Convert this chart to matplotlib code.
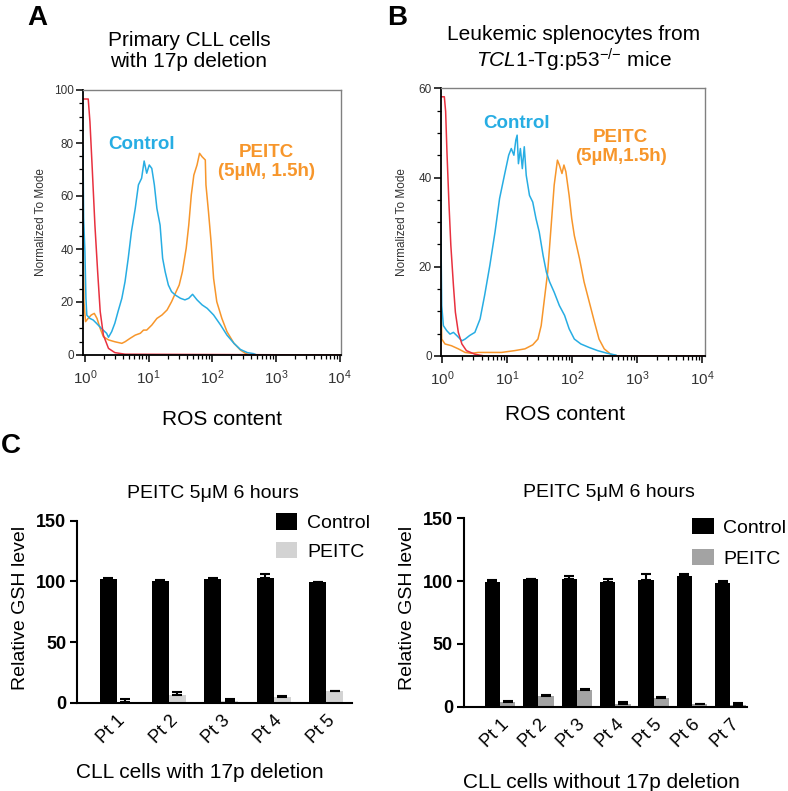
import numpy as np
import matplotlib
matplotlib.use("Agg")
import matplotlib.pyplot as plt
from matplotlib.ticker import MultipleLocator, LogLocator, LogFormatterSciNotation, NullFormatter

plt.rcParams["font.family"] = ["Liberation Sans", "DejaVu Sans"]
plt.rcParams["mathtext.fontset"] = "custom"
plt.rcParams["mathtext.rm"] = "Liberation Sans"
plt.rcParams["mathtext.it"] = "Liberation Sans:italic"
plt.rcParams["mathtext.bf"] = "Liberation Sans:bold"

# ---- flow histograms (x as log10 of ROS content, y normalized to mode) ----
# A: primary CLL cells with 17p deletion
red_a_log = [-0.03, 0.052, 0.079, 0.115, 0.157, 0.2, 0.24, 0.29, 0.37, 0.47, 0.63, 4.02]
red_a_val = [96.6, 96.6, 88, 70.4, 49, 31.4, 16.4, 7.5, 2.5, 0.9, 0.3, 0]

ctrl_a_log = [-0.03, -0.02, 0.0, 0.016, 0.03, 0.079, 0.13, 0.18, 0.26, 0.34, 0.37, 0.42,
              0.47, 0.52, 0.58, 0.63, 0.68, 0.73, 0.79, 0.84, 0.89, 0.93, 0.97, 1.01,
              1.05, 1.09, 1.13, 1.18, 1.22, 1.26, 1.31, 1.36, 1.42, 1.5, 1.57, 1.63,
              1.69, 1.76, 1.84, 1.92, 2.02, 2.13, 2.23, 2.34, 2.44, 2.55, 2.65, 2.7]
ctrl_a_val = [79, 51.6, 39, 21.4, 15, 13.8, 13.2, 12, 10, 8.2, 6.7, 8.8,
              12, 16.4, 21.4, 27.7, 36.5, 46.5, 55.3, 64.2, 66.7, 73.2, 68.6, 71.7,
              70.4, 64.2, 55.3, 49, 36.5, 31.4, 26.4, 23.9, 22.6, 21.4, 20.8, 21.4,
              22.9, 20.8, 18.9, 17.6, 15.1, 11.3, 7.5, 4.4, 2.1, 0.9, 0.5, 0]

peitc_a_log = [-0.03, -0.015, 0.01, 0.05, 0.1, 0.147, 0.19, 0.24, 0.29, 0.37, 0.47, 0.58,
               0.63, 0.71, 0.79, 0.87, 0.92, 0.97, 1.05, 1.13, 1.21, 1.29, 1.36, 1.42,
               1.48, 1.53, 1.59, 1.63, 1.67, 1.71, 1.76, 1.8, 1.84, 1.89, 1.9, 1.94,
               1.98, 2.02, 2.07, 2.15, 2.23, 2.34, 2.44, 2.52, 2.6, 4.02]
peitc_a_val = [51.6, 20, 12.6, 13.8, 15.1, 15.7, 13.8, 10, 6.9, 5.7, 5, 4.4,
               5, 6.3, 7.5, 8.2, 9.4, 9.4, 11.3, 13.8, 15.1, 17, 20.1, 23.3,
               26.4, 31.4, 40.3, 49, 60.4, 67.9, 71.7, 76.1, 74.8, 73.6, 64.2, 54,
               42.8, 28.9, 20.1, 13.8, 8.8, 4.4, 1.9, 0.6, 0, 0]

# B: leukemic splenocytes from TCL1-Tg:p53-/- mice
red_b_log = [-0.04, 0.03, 0.05, 0.07, 0.1, 0.13, 0.17, 0.2, 0.245, 0.3, 0.37, 0.5, 0.65, 4.04]
red_b_val = [58.1, 58.1, 54.8, 45.8, 34.5, 24.8, 15.8, 9.8, 5.3, 2.7, 1.2, 0.4, 0, 0]

ctrl_b_log = [-0.036, -0.01, 0.015, 0.066, 0.117, 0.17, 0.22, 0.3, 0.35, 0.42, 0.5, 0.58,
              0.65, 0.73, 0.81, 0.88, 0.96, 1.02, 1.06, 1.1, 1.13, 1.15, 1.17, 1.2,
              1.23, 1.26, 1.29, 1.34, 1.39, 1.44, 1.49, 1.55, 1.6, 1.65, 1.72, 1.8,
              1.88, 1.95, 2.03, 2.13, 2.26, 2.39, 2.54, 2.67]
ctrl_b_val = [44, 11.3, 6.8, 5.7, 4.9, 5.3, 4.6, 3.4, 3.8, 4.6, 5.3, 8.3,
              13.6, 20.3, 27.8, 35.3, 40.9, 45, 46.5, 45, 48.4, 49.5, 43.1, 46.5,
              42, 46.9, 40.5, 36, 34.5, 30.8, 27.8, 22.5, 18.8, 16.6, 14.3, 11.3,
              9.1, 6.1, 3.8, 2.7, 1.9, 1.2, 0.6, 0.2]

peitc_b_log = [-0.036, -0.01, 0.04, 0.14, 0.245, 0.35, 0.45, 0.55, 0.7, 0.91, 1.11, 1.27,
               1.39, 1.47, 1.52, 1.57, 1.62, 1.67, 1.72, 1.77, 1.8, 1.84, 1.87, 1.9,
               1.95, 1.99, 2.03, 2.11, 2.18, 2.26, 2.34, 2.41, 2.49, 2.59, 2.7, 4.04]
peitc_b_val = [27, 3.8, 2.7, 2.3, 1.6, 0.8, 0.6, 0.8, 0.8, 0.8, 1.2, 1.6,
               2.5, 3.8, 6.8, 12.8, 18.8, 28.5, 38.3, 43.9, 42.8, 40.9, 42.8, 41.3,
               36, 30.8, 27, 21.8, 16.6, 12.1, 7.6, 3.8, 1.6, 0.4, 0, 0]

# ---- GSH bar charts ----
pts_17p = ["Pt 1", "Pt 2", "Pt 3", "Pt 4", "Pt 5"]
ctrl_17p = [101.6, 100.3, 101.6, 102.5, 99.7]
ctrl_17p_err = [0.9, 0.7, 0.9, 3.5, 0.0]
peitc_17p = [0.8, 6.0, 1.4, 4.7, 9.6]
peitc_17p_err = [2.6, 2.5, 1.3, 0.5, 0.3]

pts_wt = ["Pt 1", "Pt 2", "Pt 3", "Pt 4", "Pt 5", "Pt 6", "Pt 7"]
ctrl_wt = [99.5, 101.3, 101.3, 99.5, 100.8, 104.0, 98.1]
ctrl_wt_err = [1.5, 0.5, 3.0, 2.5, 5.0, 2.0, 2.0]
peitc_wt = [4.0, 8.5, 13.3, 1.9, 7.2, 1.9, 1.3]
peitc_wt_err = [0.5, 1.0, 1.0, 2.0, 0.3, 0.5, 1.3]

BLUE = "#27ADE3"
ORANGE = "#F7962B"
RED = "#E8313F"

W, H = 788, 791
fig = plt.figure(figsize=(W / 100, H / 100), dpi=100)


def px_axes(left, top, right, bottom):
    return fig.add_axes([left / W, 1 - bottom / H, (right - left) / W, (bottom - top) / H])


def flow_panel(ax, curves, xlim_log, ymax, ystep):
    for xs, ys, color in curves:
        ax.plot(10 ** np.array(xs), ys, color=color, lw=1.1)
    ax.set_xscale("log")
    ax.set_xlim(10 ** xlim_log[0], 10 ** xlim_log[1])
    ax.set_ylim(0, ymax)
    ax.xaxis.set_major_locator(LogLocator(base=10, numticks=10))
    ax.xaxis.set_minor_locator(LogLocator(base=10, subs=np.arange(2, 10), numticks=20))
    ax.xaxis.set_major_formatter(LogFormatterSciNotation())
    ax.xaxis.set_minor_formatter(NullFormatter())
    ax.yaxis.set_major_locator(MultipleLocator(ystep))
    ax.yaxis.set_minor_locator(MultipleLocator(5))
    for s in ["left", "bottom"]:
        ax.spines[s].set_linewidth(1.3)
        ax.spines[s].set_color("black")
    for s in ["top", "right"]:
        ax.spines[s].set_linewidth(1.0)
        ax.spines[s].set_color("#808080")
    ax.tick_params(which="major", direction="out", length=5, width=1.1, colors="black")
    ax.tick_params(which="minor", direction="out", length=3, width=0.9, colors="black")
    ax.tick_params(axis="y", labelsize=8.5, labelcolor="#333333", pad=1.5)
    ax.tick_params(axis="x", labelsize=11, labelcolor="#333333", pad=5)
    ax.yaxis.get_major_ticks()[-1].label1.set_verticalalignment("top")


# Panel A
ax_a = px_axes(83, 90, 341, 355)
flow_panel(ax_a, [(peitc_a_log, peitc_a_val, ORANGE), (ctrl_a_log, ctrl_a_val, BLUE),
                  (red_a_log, red_a_val, RED)], (-0.03, 4.02), 100, 20)
ax_a.text(0.2275, 0.796, "Control", transform=ax_a.transAxes, color=BLUE,
          fontsize=13.5, fontweight="bold", ha="center", va="center")
ax_a.text(0.712, 0.73, "PEITC\n(5µM, 1.5h)", transform=ax_a.transAxes, color=ORANGE,
          fontsize=13.5, fontweight="bold", ha="center", va="center", linespacing=1.15)

# Panel B
ax_b = px_axes(440.7, 88.3, 704.7, 356)
flow_panel(ax_b, [(peitc_b_log, peitc_b_val, ORANGE), (ctrl_b_log, ctrl_b_val, BLUE),
                  (red_b_log, red_b_val, RED)], (-0.026, 4.036), 62, 20)
ax_b.set_ylim(0, 60)
ax_b.text(0.289, 0.87, "Control", transform=ax_b.transAxes, color=BLUE,
          fontsize=13.5, fontweight="bold", ha="center", va="center")
ax_b.text(0.682, 0.779, "PEITC\n(5µM,1.5h)", transform=ax_b.transAxes, color=ORANGE,
          fontsize=13.5, fontweight="bold", ha="center", va="center", linespacing=1.15)

for cx, cy in [(41, 222.5), (402, 222)]:
    fig.text(cx / W, 1 - cy / H, "Normalized To Mode", rotation=90, fontsize=8.5,
             color="#333333", ha="center", va="center")
fig.text(221.7 / W, 1 - 425 / H, "ROS content", fontsize=15, ha="center", va="baseline")
fig.text(564.7 / W, 1 - 420 / H, "ROS content", fontsize=15, ha="center", va="baseline")

fig.text(189 / W, 1 - 51 / H, "Primary CLL cells\nwith 17p deletion", fontsize=15,
         ha="center", va="center", linespacing=1.1)
fig.text(574 / W, 1 - 49.5 / H,
         "Leukemic splenocytes from\n$\\it{TCL1}$-Tg:p53$^{{\\mathrm{-}}/{\\mathrm{-}}}$ mice",
         fontsize=15, ha="center", va="center", linespacing=1.1)


def gsh_panel(ax, labels, ctrl, ctrl_err, peitc, peitc_err, peitc_color, width, xlim,
              leg_anchor, leg_spacing):
    x = np.arange(len(labels))
    ekw = dict(ecolor="black", elinewidth=1.5, capsize=3.5, capthick=1.5)
    ax.bar(x - width / 2, ctrl, width, color="black", label="Control",
           yerr=[np.zeros(len(ctrl)), ctrl_err], error_kw=ekw)
    ax.bar(x + width / 2, peitc, width, color=peitc_color, label="PEITC",
           yerr=[np.zeros(len(peitc)), peitc_err], error_kw=ekw)
    ax.set_xlim(*xlim)
    ax.set_ylim(0, 150)
    ax.set_yticks([0, 50, 100, 150])
    ax.set_xticks(x)
    ax.set_xticklabels(labels, rotation=45, ha="right", va="top", rotation_mode="anchor",
                       fontsize=13)
    for lab in ax.get_yticklabels():
        lab.set_fontweight("bold")
    ax.tick_params(axis="y", labelsize=13, length=5, width=1.5, pad=3)
    ax.tick_params(axis="x", length=0, pad=7)
    ax.spines["top"].set_visible(False)
    ax.spines["right"].set_visible(False)
    ax.spines["left"].set_linewidth(1.5)
    ax.spines["bottom"].set_linewidth(1.5)
    ax.legend(loc="upper left", bbox_to_anchor=leg_anchor, frameon=False, fontsize=14,
              handlelength=1.1, handleheight=0.9, handletextpad=0.5,
              labelspacing=leg_spacing, borderpad=0, borderaxespad=0)


ax_c1 = px_axes(77.3, 520.7, 351.7, 702.7)
gsh_panel(ax_c1, pts_17p, ctrl_17p, ctrl_17p_err, peitc_17p, peitc_17p_err, "#D3D3D3",
          0.325, (-0.75, 4.49), (0.724, 1.04), 0.5)
ax_c2 = px_axes(464, 518.3, 747.3, 706.7)
gsh_panel(ax_c2, pts_wt, ctrl_wt, ctrl_wt_err, peitc_wt, peitc_wt_err, "#A3A3A3",
          0.4, (-0.94, 6.44), (0.806, 1.0), 0.62)

fig.text(213 / W, 1 - 498.3 / H, "PEITC 5μM 6 hours", fontsize=14, ha="center", va="baseline")
fig.text(609 / W, 1 - 496.7 / H, "PEITC 5μM 6 hours", fontsize=14, ha="center", va="baseline")
fig.text(20.7 / W, 1 - 607.5 / H, "Relative GSH level", fontsize=14, rotation=90,
         ha="center", va="center")
fig.text(408 / W, 1 - 607.5 / H, "Relative GSH level", fontsize=14, rotation=90,
         ha="center", va="center")
fig.text(200 / W, 1 - 778 / H, "CLL cells with 17p deletion", fontsize=15,
         ha="center", va="baseline")
fig.text(601.5 / W, 1 - 788 / H, "CLL cells without 17p deletion", fontsize=15,
         ha="center", va="baseline")

# panel letters
fig.text(27 / W, 1 - 25 / H, "A", fontsize=20, fontweight="bold", va="baseline")
fig.text(387 / W, 1 - 25 / H, "B", fontsize=20, fontweight="bold", va="baseline")
fig.text(1 / W, 1 - 453 / H, "C", fontsize=20, fontweight="bold", va="baseline")

fig.savefig("out.png", dpi=100)
